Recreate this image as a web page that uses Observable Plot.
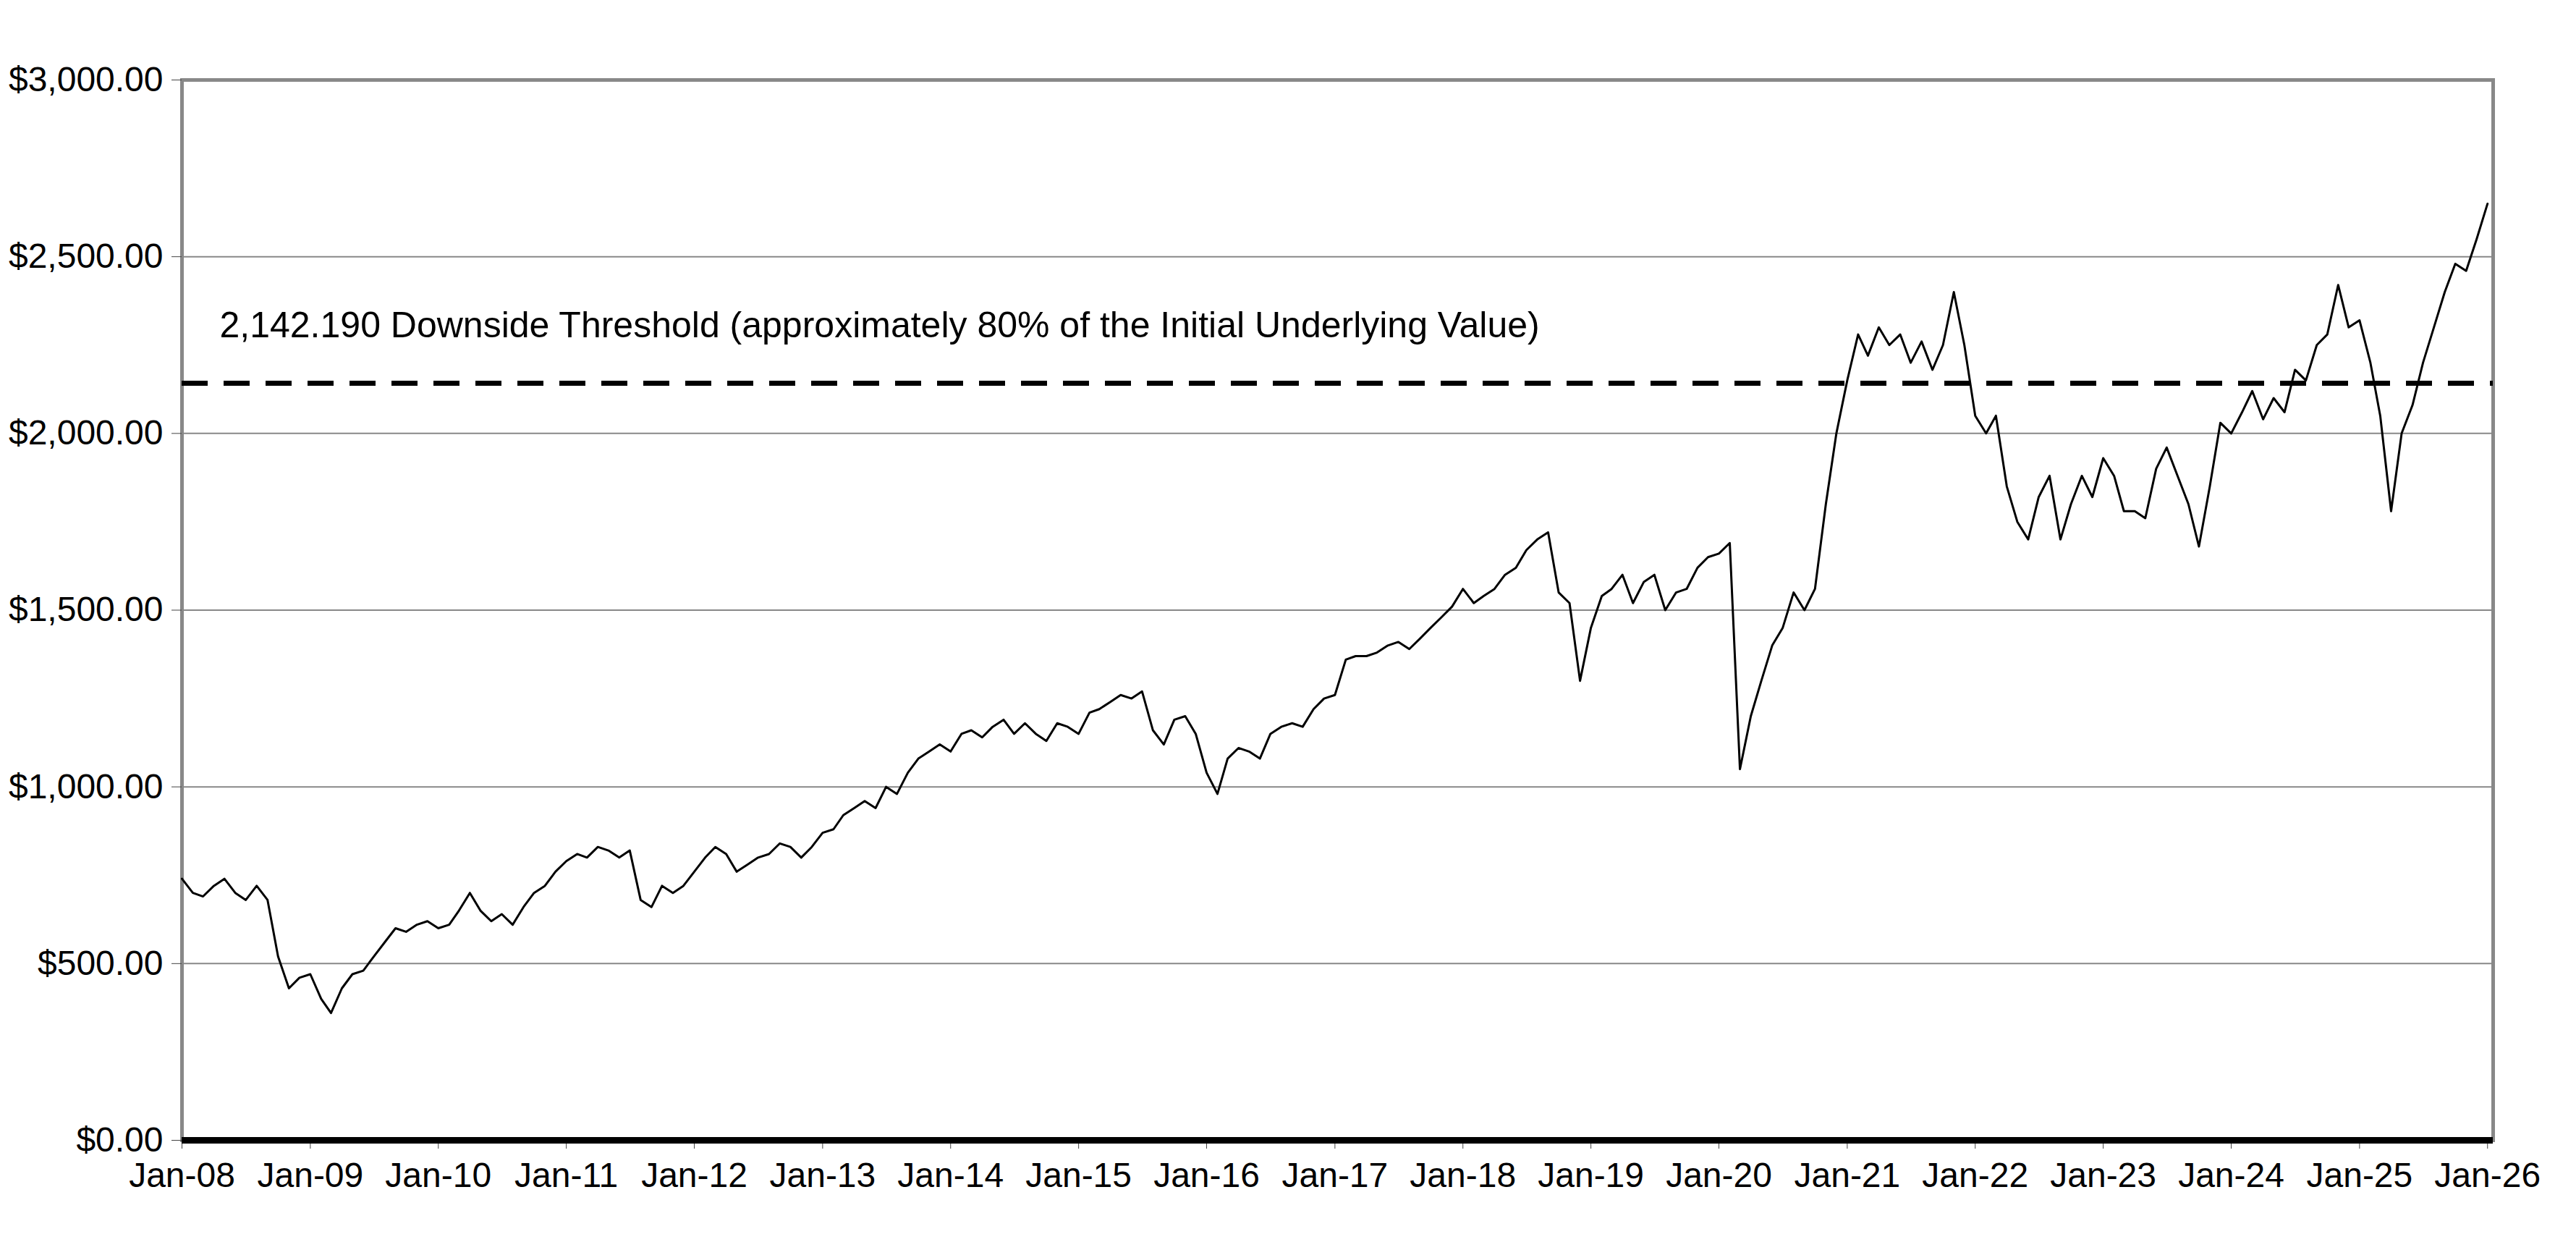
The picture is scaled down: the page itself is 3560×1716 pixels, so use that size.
<!DOCTYPE html>
<html><head><meta charset="utf-8">
<script src="https://cdn.jsdelivr.net/npm/d3@7"></script>
<script src="https://cdn.jsdelivr.net/npm/@observablehq/plot@0.6"></script>
<style>body{margin:0;background:#fff}svg{font-family:"Liberation Sans",Arial,sans-serif}</style>
</head><body><div id="c"></div>
<script>
const startYear = 2008;
const values = [
740,700,690,720,740,700,680,720,680,520,430,460,
470,400,360,430,470,480,520,560,600,590,610,620,
600,610,650,700,650,620,640,610,660,700,720,760,
790,810,800,830,820,800,820,680,660,720,700,720,
760,800,830,810,760,780,800,810,840,830,800,830,
870,880,920,940,960,940,1000,980,1040,1080,1100,1120,
1100,1150,1160,1140,1170,1190,1150,1180,1150,1130,1180,1170,
1150,1210,1220,1240,1260,1250,1270,1160,1120,1190,1200,1150,
1040,980,1080,1110,1100,1080,1150,1170,1180,1170,1220,1250,
1260,1360,1370,1370,1380,1400,1410,1390,1420,1450,1480,1510,
1560,1520,1540,1560,1600,1620,1670,1700,1720,1550,1520,1300,
1450,1540,1560,1600,1520,1580,1600,1500,1550,1560,1620,1650,
1660,1690,1050,1200,1300,1400,1450,1550,1500,1560,1800,2000,
2150,2280,2220,2300,2250,2280,2200,2260,2180,2250,2400,2250,
2050,2000,2050,1850,1750,1700,1820,1880,1700,1800,1880,1820,
1930,1880,1780,1780,1760,1900,1960,1880,1800,1680,1850,2030,
2000,2060,2120,2040,2100,2060,2180,2150,2250,2280,2420,2300,
2320,2200,2050,1780,2000,2080,2200,2300,2400,2480,2460,2550,
2650];
const threshold = 2142.19;
const yTicks = [0,500,1000,1500,2000,2500,3000];
const xTickYears = d3.range(2008, 2027);
const label = "2,142.190 Downside Threshold (approximately 80% of the Initial Underlying Value)";

const data = values.map((v,i)=>({date:new Date(startYear, i, 1), value:v}));
const x0 = new Date(2008,0,1), x1 = new Date(2026,0,17);
const plot = Plot.plot({
  width:3560, height:1716,
  marginLeft:251, marginRight:115, marginTop:110, marginBottom:141,
  style:{fontSize:"46px", fontFamily:"Liberation Sans, Arial, sans-serif", color:"#000"},
  x:{type:"utc", domain:[x0,x1], label:null},
  y:{domain:[0,3000], label:null},
  marks:[
    Plot.gridY(yTicks,{stroke:"#888", strokeOpacity:1, strokeWidth:2}),
    Plot.frame({stroke:"#888", strokeWidth:5}),
    Plot.axisY(yTicks,{tickFormat:d3.format("$,.2f"), tickSize:14, tickPadding:12, stroke:"#444", fontSize:48, label:null}),
    Plot.axisX(xTickYears.map(y=>new Date(y,0,1)),{tickFormat:d=>"Jan-"+String(d.getFullYear()).slice(2), tickSize:12, tickPadding:18, stroke:"#444", fontSize:48, label:null}),
    Plot.ruleY([0],{stroke:"#000", strokeWidth:9}),
    Plot.ruleY([threshold],{stroke:"#000", strokeWidth:7, strokeDasharray:"36,22"}),
    Plot.line(data,{x:"date", y:"value", stroke:"#000", strokeWidth:3}),
    Plot.text([label],{x:()=>x0, y:()=>2305, text:d=>d, textAnchor:"start", dx:52, fontSize:50, fill:"#000"})
  ]
});
document.getElementById("c").appendChild(plot);
</script></body></html>
